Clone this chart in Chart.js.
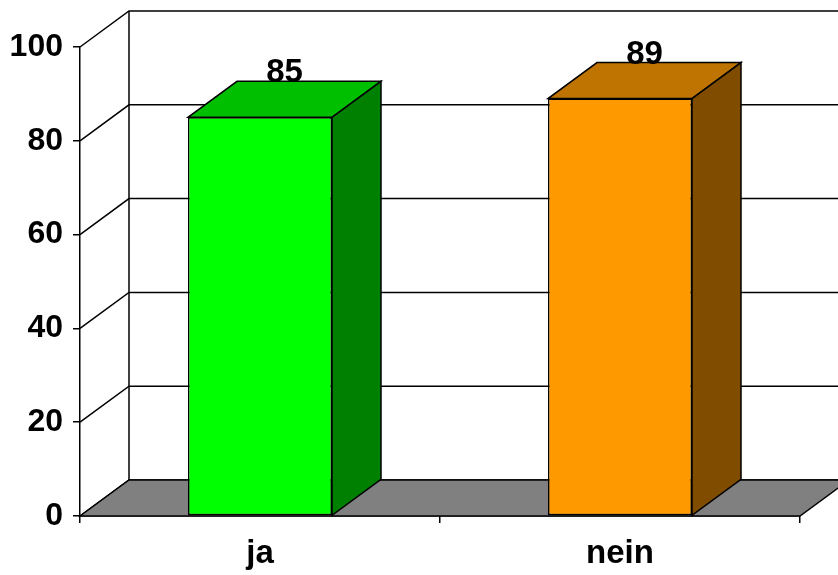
<!DOCTYPE html>
<html>
<head>
<meta charset="utf-8">
<script src="https://cdn.jsdelivr.net/npm/chart.js@4.4.1/dist/chart.umd.min.js"></script>
<style>
  html, body { margin: 0; padding: 0; background: #fff; }
  #wrap { width: 838px; height: 575px; }
</style>
</head>
<body>
<div id="wrap"><canvas id="chart"></canvas></div>
<script>
// data
const categories = ['ja', 'nein'];
const values = [85, 89];
const frontColors = ['#00FF00', '#FF9900'];
const topColors = ['#00BF00', '#BF7300'];
const sideColors = ['#008000', '#804D00'];

// 3d depth of the plot (px)
const DX = 49;
const DY = 36;
const FAMILY = "'Liberation Sans', Arial, sans-serif";

const depthPlugin = {
    id: 'depth',
    beforeDatasetsDraw(chart) {
        const ctx = chart.ctx;
        const { left, right, top, bottom } = chart.chartArea;
        const y = chart.scales.y;
        ctx.save();
        ctx.lineWidth = 1.5;
        ctx.strokeStyle = '#000';

        // back wall grid lines + side wall diagonals
        y.ticks.forEach(t => {
            const py = y.getPixelForValue(t.value);
            ctx.beginPath();
            ctx.moveTo(left, py);
            ctx.lineTo(left + DX, py - DY);
            ctx.lineTo(chart.width, py - DY);
            ctx.stroke();
        });
        ctx.beginPath();
        ctx.moveTo(left + DX, bottom - DY);
        ctx.lineTo(left + DX, top - DY);
        ctx.stroke();

        // floor
        ctx.beginPath();
        ctx.moveTo(left, bottom);
        ctx.lineTo(right, bottom);
        ctx.lineTo(right + DX, bottom - DY);
        ctx.lineTo(left + DX, bottom - DY);
        ctx.closePath();
        ctx.fillStyle = '#808080';
        ctx.fill();
        ctx.stroke();
        ctx.restore();
    },
    afterDatasetsDraw(chart) {
        const ctx = chart.ctx;
        const meta = chart.getDatasetMeta(0);
        ctx.save();
        ctx.lineWidth = 1.5;
        ctx.strokeStyle = '#000';
        meta.data.forEach((bar, i) => {
            const l = bar.x - bar.width / 2;
            const r = bar.x + bar.width / 2;
            const ty = bar.y;
            const base = bar.base;

            // top face
            ctx.beginPath();
            ctx.moveTo(l, ty);
            ctx.lineTo(r, ty);
            ctx.lineTo(r + DX, ty - DY);
            ctx.lineTo(l + DX, ty - DY);
            ctx.closePath();
            ctx.fillStyle = topColors[i];
            ctx.fill();
            ctx.stroke();

            // side face
            ctx.beginPath();
            ctx.moveTo(r, ty);
            ctx.lineTo(r + DX, ty - DY);
            ctx.lineTo(r + DX, base - DY);
            ctx.lineTo(r, base);
            ctx.closePath();
            ctx.fillStyle = sideColors[i];
            ctx.fill();
            ctx.stroke();

            // value label
            ctx.fillStyle = '#000';
            ctx.font = 'bold 33px ' + FAMILY;
            ctx.textAlign = 'center';
            ctx.textBaseline = 'alphabetic';
            ctx.fillText(String(values[i]), bar.x + DX / 2, ty - DY + 1);
        });
        ctx.restore();
    }
};

new Chart(document.getElementById('chart'), {
    type: 'bar',
    data: {
        labels: categories,
        datasets: [{
            data: values,
            backgroundColor: frontColors,
            borderColor: '#000',
            borderWidth: 1.5,
            borderSkipped: false,
            barPercentage: 0.4,
            categoryPercentage: 1
        }]
    },
    options: {
        responsive: true,
        maintainAspectRatio: false,
        animation: false,
        layout: { padding: { top: 47, right: 38, left: 0, bottom: 0 } },
        plugins: { legend: { display: false }, tooltip: { enabled: false } },
        scales: {
            y: {
                min: 0,
                max: 100,
                ticks: { stepSize: 20, color: '#000', font: { family: FAMILY, size: 32, weight: 'bold' }, padding: 10 },
                grid: { drawOnChartArea: false, tickLength: 7, color: '#000', lineWidth: 1.5 },
                border: { color: '#000', width: 1.5 },
                afterFit(scale) { scale.width = 80; }
            },
            x: {
                ticks: { color: '#000', font: { family: FAMILY, size: 33, weight: 'bold' }, padding: 11 },
                grid: { drawOnChartArea: false, tickLength: 7, color: '#000', lineWidth: 1.5, offset: true },
                border: { color: '#000', width: 1.5 },
                afterFit(scale) { scale.height = 59; }
            }
        }
    },
    plugins: [depthPlugin]
});
</script>
</body>
</html>
